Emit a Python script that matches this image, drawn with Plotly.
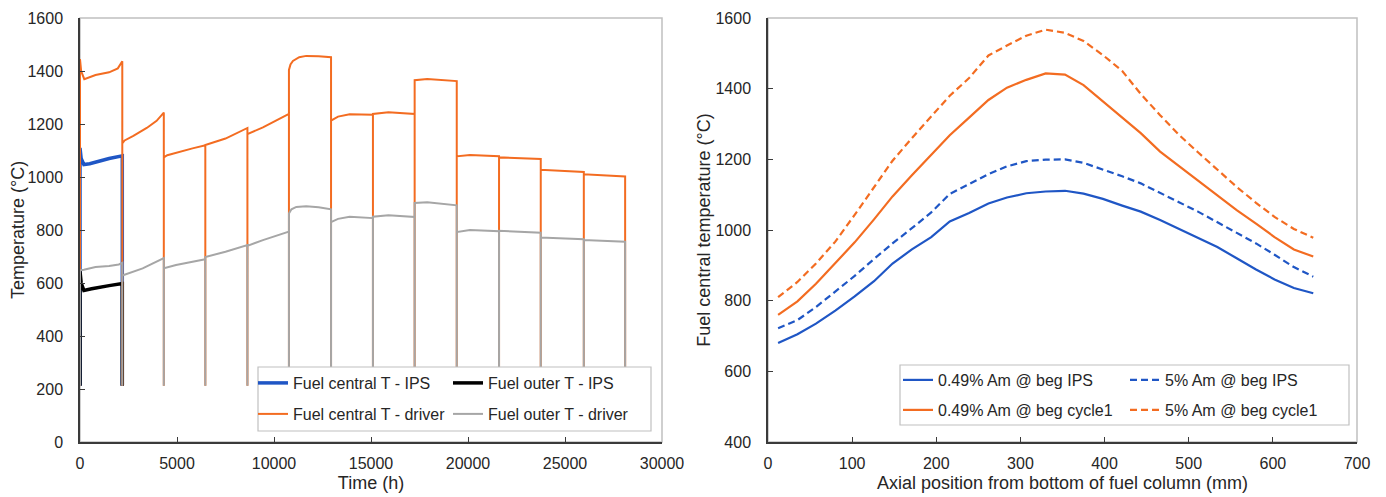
import plotly.graph_objects as go

PAGE_W, PAGE_H = 1386, 497
OFF = 8  # default body margin of the html page
W, H = PAGE_W - OFF, PAGE_H - OFF
FONT = "Liberation Sans, Arial, sans-serif"
TXT = "#262626"

# ---------------- Left chart data: temperature history ----------------
shutdown_temp = 212

ips_central_t = [0, 60, 200, 500, 1000, 1500, 2180]
ips_central_T = [1110, 1070, 1047, 1050, 1060, 1070, 1080]
ips_outer_t = [0, 60, 200, 600, 1000, 1500, 2180]
ips_outer_T = [645, 600, 572, 578, 582, 590, 598]

driver_central_t = [
    [0, 60, 220, 800, 1500, 1950, 2180],
    [2180, 2300, 2750, 3440, 3950, 4320],
    [4320, 4500, 4950, 5800, 6460],
    [6460, 7500, 8630],
    [8630, 9430, 10100, 10770],
    [10770, 10850, 10975, 11300, 11660, 12300, 12940],
    [12940, 13300, 13900, 15100],
    [15100, 15900, 17250],
    [17250, 17900, 19420],
    [19420, 20100, 21600],
    [21600, 23750],
    [23750, 25970],
    [25970, 28100],
]
driver_central_T = [
    [1445, 1400, 1369, 1385, 1395, 1410, 1437],
    [1127, 1138, 1155, 1185, 1212, 1243],
    [1074, 1082, 1092, 1108, 1120],
    [1121, 1145, 1185],
    [1162, 1187, 1212, 1238],
    [1404, 1425, 1438, 1452, 1457, 1456, 1452],
    [1213, 1228, 1237, 1235],
    [1238, 1244, 1238],
    [1365, 1370, 1362],
    [1078, 1083, 1078],
    [1074, 1068],
    [1027, 1019],
    [1010, 1002],
]
driver_outer_t = [
    [0, 200, 800, 1500, 2000, 2180],
    [2180, 3230, 4320],
    [4320, 4950, 5800, 6460],
    [6460, 7500, 8630],
    [8630, 9430, 10100, 10770],
    [10770, 10900, 11150, 11660, 12300, 12940],
    [12940, 13300, 13900, 15100],
    [15100, 15900, 17250],
    [17250, 17900, 19420],
    [19420, 20100, 21600],
    [21600, 23750],
    [23750, 25970],
    [25970, 28100],
]
driver_outer_T = [
    [648, 650, 660, 664, 670, 676],
    [628, 655, 694],
    [656, 668, 680, 690],
    [698, 718, 743],
    [740, 762, 778, 794],
    [862, 878, 887, 890, 886, 878],
    [830, 842, 850, 845],
    [850, 856, 849],
    [902, 905, 893],
    [792, 800, 795],
    [797, 790],
    [772, 765],
    [762, 756],
]

# ---------------- Right chart data: axial profiles ----------------
axial_mm = [12, 35, 57, 80, 103, 126, 148, 171, 194, 216, 239, 262, 284, 307, 330,
            353, 375, 398, 421, 443, 466, 489, 511, 534, 557, 580, 602, 625, 648]
am049_beg_ips = [680, 705, 735, 772, 812, 855, 905, 945, 980, 1024, 1048, 1075, 1092, 1104, 1109,
                 1111, 1103, 1088, 1069, 1052, 1028, 1003, 979, 952, 920, 888, 860, 836, 821]
am5_beg_ips = [722, 745, 782, 825, 870, 918, 962, 1005, 1050, 1102, 1130, 1158, 1180, 1195, 1199,
               1200, 1190, 1172, 1152, 1132, 1106, 1078, 1052, 1022, 993, 962, 930, 895, 868]
am049_beg_c1 = [760, 798, 848, 905, 965, 1030, 1095, 1155, 1212, 1268, 1318, 1368, 1403, 1425, 1443,
                1440, 1410, 1364, 1318, 1274, 1222, 1180, 1140, 1097, 1056, 1018, 980, 945, 925]
am5_beg_c1 = [810, 853, 905, 967, 1043, 1120, 1196, 1260, 1322, 1380, 1430, 1494, 1522, 1550, 1567,
              1558, 1535, 1495, 1450, 1385, 1325, 1268, 1220, 1170, 1122, 1077, 1037, 1003, 978]

BLUE = "#1f56c5"
ORANGE = "#f36c21"
GRAY = "#a6a6a6"
BLACK = "#000000"


def with_shutdowns(t_cycles, T_cycles, low):
    xs, ys = [], []
    for ts, Ts in zip(t_cycles, T_cycles):
        xs += [ts[0]] + list(ts) + [ts[-1]]
        ys += [low] + list(Ts) + [low]
    return xs, ys


fig = go.Figure()

# Left chart traces
x, y = with_shutdowns([ips_central_t], [ips_central_T], shutdown_temp)
fig.add_trace(go.Scatter(x=x, y=y, mode="lines", name="Fuel central T - IPS",
                         line=dict(color=BLUE, width=3.5), xaxis="x", yaxis="y", legend="legend"))
x, y = with_shutdowns([ips_outer_t], [ips_outer_T], shutdown_temp)
fig.add_trace(go.Scatter(x=x, y=y, mode="lines", name="Fuel outer T - IPS",
                         line=dict(color=BLACK, width=3.5), xaxis="x", yaxis="y", legend="legend"))
x, y = with_shutdowns(driver_central_t, driver_central_T, shutdown_temp)
fig.add_trace(go.Scatter(x=x, y=y, mode="lines", name="Fuel central T - driver",
                         line=dict(color=ORANGE, width=2), xaxis="x", yaxis="y", legend="legend2"))
x, y = with_shutdowns(driver_outer_t, driver_outer_T, shutdown_temp)
fig.add_trace(go.Scatter(x=x, y=y, mode="lines", name="Fuel outer T - driver",
                         line=dict(color=GRAY, width=2), xaxis="x", yaxis="y", legend="legend2"))

# Right chart traces
DASH = "7px,4px"
fig.add_trace(go.Scatter(x=axial_mm, y=am049_beg_ips, mode="lines", name="0.49% Am @ beg IPS",
                         line=dict(color=BLUE, width=2.2), xaxis="x2", yaxis="y2", legend="legend3"))
fig.add_trace(go.Scatter(x=axial_mm, y=am5_beg_ips, mode="lines", name="5% Am @ beg IPS",
                         line=dict(color=BLUE, width=2.2, dash=DASH), xaxis="x2", yaxis="y2", legend="legend3"))
fig.add_trace(go.Scatter(x=axial_mm, y=am049_beg_c1, mode="lines", name="0.49% Am @ beg cycle1",
                         line=dict(color=ORANGE, width=2.2), xaxis="x2", yaxis="y2", legend="legend4"))
fig.add_trace(go.Scatter(x=axial_mm, y=am5_beg_c1, mode="lines", name="5% Am @ beg cycle1",
                         line=dict(color=ORANGE, width=2.2, dash=DASH), xaxis="x2", yaxis="y2", legend="legend4"))


def px_x(p):
    return (p - OFF) / W


def px_y(p):
    return 1 - (p - OFF) / H


axis_common = dict(showgrid=False, zeroline=False, showline=True, linecolor="#3a3a3a", linewidth=1.5,
                   ticks="inside", ticklen=5, tickwidth=1.2, tickcolor="#3a3a3a", tickformat="d",
                   tickfont=dict(family=FONT, size=16, color=TXT), automargin=False)

fig.update_layout(
    width=W, height=H,
    margin=dict(l=0, r=0, t=0, b=0),
    paper_bgcolor="white", plot_bgcolor="white",
    font=dict(family=FONT, size=16, color=TXT),
    xaxis=dict(domain=[px_x(80), px_x(662)], range=[0, 30000], dtick=5000, anchor="y",
               title=dict(text="Time (h)", font=dict(size=18), standoff=5), ticklabelstandoff=6,
               **axis_common),
    yaxis=dict(domain=[px_y(442), px_y(18)], range=[0, 1600], dtick=200, anchor="x",
               title=dict(text="Temperature (°C)", font=dict(size=18), standoff=8), ticklabelstandoff=12,
               **axis_common),
    xaxis2=dict(domain=[px_x(768), px_x(1357)], range=[0, 700], dtick=100, anchor="y2",
                title=dict(text="Axial position from bottom of fuel column (mm)", font=dict(size=18), standoff=5),
                ticklabelstandoff=6, **axis_common),
    yaxis2=dict(domain=[px_y(442), px_y(18)], range=[400, 1600], dtick=200, anchor="x2",
                title=dict(text="Fuel central temperature (°C)", font=dict(size=18), standoff=0),
                ticklabelstandoff=12, **axis_common),
)

leg_common = dict(orientation="h", xanchor="left", yanchor="middle", bgcolor="rgba(0,0,0,0)",
                  borderwidth=0, font=dict(family=FONT, size=16, color=TXT), itemclick=False)
fig.update_layout(
    legend=dict(x=px_x(253), y=px_y(383), entrywidth=150, **leg_common),
    legend2=dict(x=px_x(253), y=px_y(414), entrywidth=150, **leg_common),
    legend3=dict(x=px_x(898), y=px_y(380), entrywidth=182, **leg_common),
    legend4=dict(x=px_x(898), y=px_y(410), entrywidth=182, **leg_common),
)

# plot-area frames and legend boxes
shapes = [
    dict(type="rect", xref="x domain", yref="y domain", x0=0, x1=1, y0=0, y1=1,
         line=dict(color="#c0c0c0", width=1.5), layer="below"),
    dict(type="rect", xref="x2 domain", yref="y2 domain", x0=0, x1=1, y0=0, y1=1,
         line=dict(color="#c0c0c0", width=1.5), layer="below"),
    dict(type="rect", xref="paper", yref="paper", x0=px_x(258), x1=px_x(651), y0=px_y(431), y1=px_y(367),
         line=dict(color="#c0c0c0", width=1.2), fillcolor="white", layer="above"),
    dict(type="rect", xref="paper", yref="paper", x0=px_x(900), x1=px_x(1349), y0=px_y(425), y1=px_y(365),
         line=dict(color="#c0c0c0", width=1.2), fillcolor="white", layer="above"),
]
fig.update_layout(shapes=shapes)

fig.write_html("out.html")
